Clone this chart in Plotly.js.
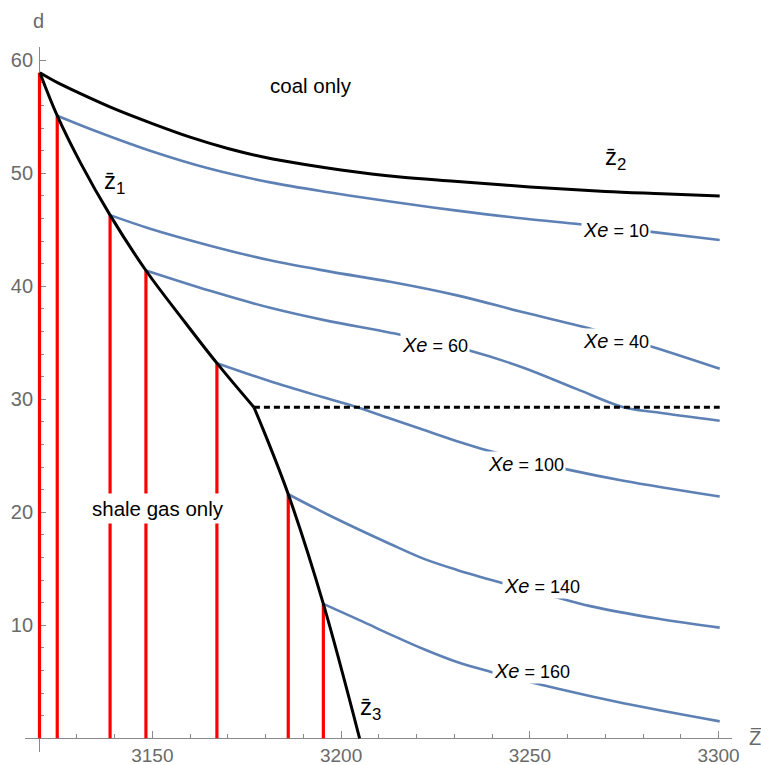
<!DOCTYPE html>
<html><head><meta charset="utf-8">
<script src="https://cdn.plot.ly/plotly-3.0.1.min.js"></script>
<style>html,body{margin:0;padding:0;background:#fff}#chart{width:761px;height:765px}</style>
</head><body><div id="chart"></div>
<script>
// ---- data ----
const z2X = [3120.2, 3125, 3130, 3140, 3150, 3160, 3170, 3180, 3190, 3200, 3215, 3230, 3250, 3270, 3285, 3300.3];
const z2Y = [58.9, 58.0, 57.2, 55.7, 54.4, 53.2, 52.2, 51.4, 50.8, 50.3, 49.7, 49.3, 48.8, 48.4, 48.2, 48.0];

const z1X = [3120.2, 3124.8, 3131, 3138.8, 3148.3, 3158, 3167.1, 3176.9];
const z1Y = [58.9, 55.1, 50.9, 46.3, 41.4, 37.1, 33.2, 29.3];

const z3X = [3176.9, 3179.4, 3186.0, 3195.3, 3204.9];
const z3Y = [29.3, 27.3, 21.6, 11.9, 0];

const dashX = [3176.9, 3300.3];
const dashY = [29.3, 29.3];

const redX   = [3120.1, 3124.8, 3138.8, 3148.3, 3167.1, 3186.0, 3195.3];
const redTop = [58.9, 55.1, 46.3, 41.4, 33.2, 21.6, 11.9];

const xe10X = [3124.8, 3135.3, 3149.4, 3165.3, 3181.2, 3197.1, 3213, 3230.7, 3248.3, 3263.4, 3282.8, 3300.3];
const xe10Y = [55.1, 53.7, 52.0, 50.4, 49.2, 48.3, 47.5, 46.7, 46.0, 45.5, 44.8, 44.1];

const xe40X = [3138.8, 3149.4, 3165.3, 3181.2, 3197.1, 3213, 3230.7, 3248.3, 3267.8, 3282.8, 3300.3];
const xe40Y = [46.3, 45.1, 43.6, 42.3, 41.3, 40.4, 39.2, 37.7, 36.1, 34.6, 32.7];

const xe60X = [3148.3, 3165.3, 3181.2, 3197.1, 3213, 3234.2, 3248.3, 3262.5, 3274.8, 3283.6, 3300.3];
const xe60Y = [41.4, 39.6, 38.1, 36.9, 35.9, 34.3, 32.8, 30.9, 29.3, 28.85, 28.1];

const xe100X = [3167.1, 3181.2, 3195, 3204.2, 3213, 3221.8, 3230.7, 3238.6, 3259.8, 3274.8, 3300.3];
const xe100Y = [33.2, 31.6, 30.2, 29.3, 28.3, 27.3, 26.3, 25.5, 23.8, 22.8, 21.4];

const xe140X = [3186.0, 3197.1, 3213, 3221.8, 3230.7, 3242.2, 3253.6, 3266, 3283.7, 3300.3];
const xe140Y = [21.6, 19.7, 17.2, 15.9, 14.9, 13.8, 12.8, 11.7, 10.6, 9.8];

const xe160X = [3195.3, 3205.9, 3213, 3221.8, 3230.7, 3239.5, 3257.2, 3274.8, 3300.3];
const xe160Y = [11.9, 10.3, 9.2, 7.9, 6.75, 5.9, 4.4, 3.1, 1.5];

const xTickVals = [3150, 3200, 3250, 3300];
const yTickVals = [10, 20, 30, 40, 50, 60];

// ---- build traces ----
const BLUE = '#5E81B5';
const rx = [], ry = [];
redX.forEach((x, i) => { rx.push(x, x, null); ry.push(0, redTop[i], null); });

function blue(x, y) {
  return {x: x, y: y, mode: 'lines', line: {color: BLUE, width: 2.6, shape: 'spline', smoothing: 1}, hoverinfo: 'skip'};
}
function black(x, y) {
  return {x: x, y: y, mode: 'lines', line: {color: '#000', width: 3, shape: 'spline', smoothing: 1}, hoverinfo: 'skip'};
}

const traces = [
  {x: rx, y: ry, mode: 'lines', line: {color: '#FF0000', width: 3.2}, hoverinfo: 'skip', connectgaps: false},
  blue(xe10X, xe10Y), blue(xe40X, xe40Y), blue(xe60X, xe60Y),
  blue(xe100X, xe100Y), blue(xe140X, xe140Y), blue(xe160X, xe160Y),
  black(z2X, z2Y), black(z1X, z1Y), black(z3X, z3Y),
  {x: dashX, y: dashY, mode: 'lines', line: {color: '#000', width: 3, dash: '6px,4px'}, hoverinfo: 'skip'}
];

const FONT = 'Liberation Sans, Arial, sans-serif';
const AXC = '#8a8a8a';
const TXC = '#6a6a6a';

function xeLabel(v, x, y) {
  return {x: x, y: y, xref: 'x', yref: 'y', showarrow: false, bgcolor: '#fff', borderpad: 1,
    xanchor: 'center', yanchor: 'middle',
    text: '<i>X</i><i>e</i><span style="font-size:18px"> = ' + v + '</span>',
    font: {family: FONT, size: 20, color: '#000'}};
}
function zLabel(n, x, y) {
  return {x: x, y: y, xref: 'x', yref: 'y', showarrow: false, xanchor: 'center', yanchor: 'middle',
    text: 'z\u0304<sub>' + n + '</sub>', font: {family: FONT, size: 24, color: '#000'}};
}

const annotations = [
  {x: 3192.1, y: 57.8, xref: 'x', yref: 'y', showarrow: false, xanchor: 'center', yanchor: 'middle',
   text: 'coal only', font: {family: FONT, size: 20.5, color: '#000'}},
  {x: 3151.4, y: 20.3, xref: 'x', yref: 'y', showarrow: false, xanchor: 'center', yanchor: 'middle',
   bgcolor: '#fff', borderpad: 3, text: 'shale gas only', font: {family: FONT, size: 20.5, color: '#000'}},
  zLabel(1, 3140.1, 49.2), zLabel(2, 3272.6, 51.3), zLabel(3, 3207.7, 2.6),
  xeLabel(10, 3272.9, 45.0), xeLabel(40, 3272.9, 35.2), xeLabel(60, 3224.8, 34.8),
  xeLabel(100, 3248.9, 24.3), xeLabel(140, 3253.3, 13.5), xeLabel(160, 3250.6, 6.0),
  {x: 0.0198, y: 1.0365, xref: 'paper', yref: 'paper', xanchor: 'center', yanchor: 'middle', showarrow: false,
   text: 'd', font: {family: FONT, size: 20, color: TXC}},
  {x: 1.021, y: 0.0194, xref: 'paper', yref: 'paper', xanchor: 'left', yanchor: 'middle', showarrow: false,
   text: 'Z\u0305', font: {family: FONT, size: 20, color: TXC}}
];

const layout = {
  width: 761, height: 765,
  margin: {l: 25, r: 29.3, t: 46.7, b: 13.3},
  paper_bgcolor: '#fff', plot_bgcolor: '#fff',
  showlegend: false,
  xaxis: {
    range: [3116.26, 3303.56], anchor: 'free', position: 0.0194,
    showgrid: false, zeroline: false, showline: true, linecolor: AXC, linewidth: 1,
    layer: 'below traces',
    ticks: 'inside', ticklen: 7, tickcolor: AXC, tickwidth: 1,
    tickmode: 'array', tickvals: xTickVals, ticklabelstandoff: 0,
    tickfont: {family: FONT, size: 19, color: TXC},
    minor: {tickmode: 'linear', tick0: 3120, dtick: 10, ticks: 'inside', ticklen: 4, tickcolor: AXC, showgrid: false},
    automargin: false, fixedrange: true
  },
  yaxis: {
    range: [-1.21, 61.18], anchor: 'free', position: 0.01997,
    showgrid: false, zeroline: false, showline: true, linecolor: AXC, linewidth: 1,
    layer: 'below traces',
    ticks: 'inside', ticklen: 6, tickcolor: AXC, tickwidth: 1,
    tickmode: 'array', tickvals: yTickVals, ticklabelstandoff: 2,
    tickfont: {family: FONT, size: 20, color: TXC},
    minor: {tickmode: 'linear', tick0: 0, dtick: 2, ticks: 'inside', ticklen: 3.5, tickcolor: AXC, showgrid: false},
    automargin: false, fixedrange: true
  },
  annotations: annotations
};

Plotly.newPlot('chart', traces, layout, {staticPlot: true, displayModeBar: false});
</script>
</body></html>
